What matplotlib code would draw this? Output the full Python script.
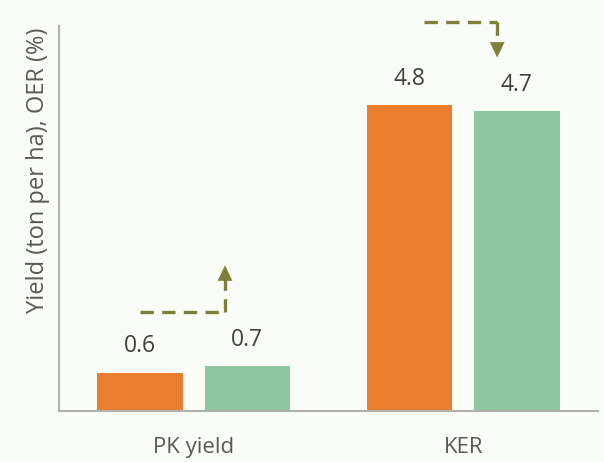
import matplotlib
matplotlib.use("Agg")
import matplotlib.pyplot as plt
import numpy as np

categories = ["PK yield", "KER"]
before = [0.6, 4.8]
after = [0.7, 4.7]

orange = "#ED7D31"
green = "#8FC5A0"
olive = "#7F7F3A"
bg = "#FAFDF7"

plt.rcParams["font.family"] = ["Open Sans", "DejaVu Sans"]

fig = plt.figure(figsize=(6.04, 4.62), dpi=100, facecolor=bg)
ax = fig.add_axes([0.0977, 0.1104, 0.8923, 0.8333], facecolor=bg)

x = np.arange(len(categories))
width = 0.318
offset = 0.199

b1 = ax.bar(x - offset, before, width, color=orange)
b2 = ax.bar(x + offset, after, width, color=green)

for bars, vals in ((b1, before), (b2, after)):
    for rect, v in zip(bars, vals):
        ax.annotate(f"{v}", (rect.get_x() + rect.get_width() / 2, v),
                    xytext=(0, 19), textcoords="offset points",
                    ha="center", va="center", fontsize=16.5, color="#404040")

ax.set_xlim(-0.5, 1.5)
ax.set_ylim(0, 6.04)
ax.set_xticks(x)
ax.set_xticklabels(categories, fontsize=16, color="#595959")
ax.tick_params(axis="x", length=0, pad=19)
ax.set_yticks([])
ax.set_ylabel("Yield (ton per ha), OER (%)", fontsize=17, color="#595959")
ax.yaxis.set_label_coords(-0.017, 0.626)

for s in ("top", "right"):
    ax.spines[s].set_visible(False)
for s in ("left", "bottom"):
    ax.spines[s].set_color("#B0B0B0")
    ax.spines[s].set_linewidth(1.5)

# dashed trend arrows above each pair
dash = dict(color=olive, lw=2.4, dashes=(4, 2.5), solid_capstyle="butt")
head = dict(arrowstyle="-|>,head_length=0.8,head_width=0.38",
            color=olive, lw=0, mutation_scale=14)
# PK yield: increase
ax.plot([0 - offset, 0.116], [1.55, 1.55], clip_on=False, **dash)
ax.plot([0.116, 0.116], [1.55, 2.10], clip_on=False, **dash)
ax.annotate("", xy=(0.116, 2.33), xytext=(0.116, 2.08),
            arrowprops=head, annotation_clip=False)
# KER: decrease
ax.plot([1 - 0.144, 1 + 0.126], [6.10, 6.10], clip_on=False, **dash)
ax.plot([1 + 0.126, 1 + 0.126], [6.10, 5.76], clip_on=False, **dash)
ax.annotate("", xy=(1 + 0.126, 5.50), xytext=(1 + 0.126, 5.78),
            arrowprops=head, annotation_clip=False)

fig.savefig("out.png", dpi=100, facecolor=bg)
